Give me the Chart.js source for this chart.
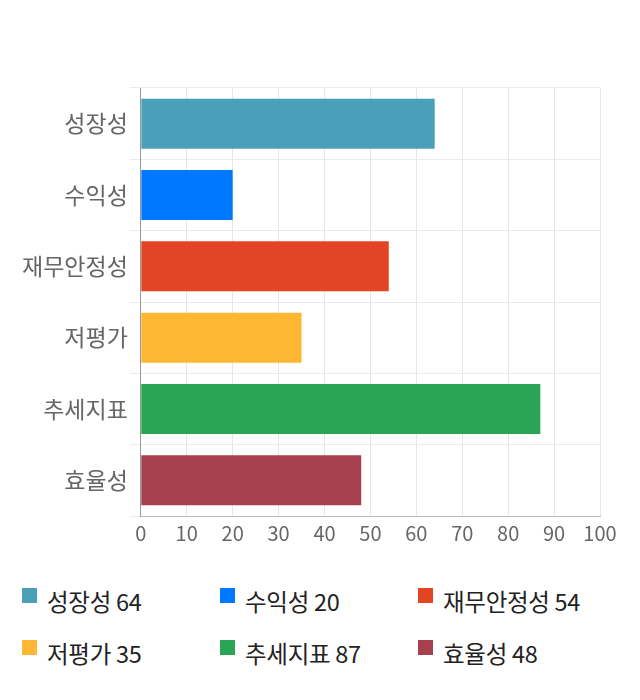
<!DOCTYPE html>
<html><head><meta charset="utf-8">
<script src="https://cdn.jsdelivr.net/npm/chart.js@4"></script>
<style>
html,body{margin:0;padding:0;background:#fff;}
body{width:640px;height:700px;font-family:"Noto Sans CJK KR","Noto Sans",sans-serif;}
#wrap{position:absolute;left:0;top:0;width:640px;height:560px;}
#legend{position:absolute;left:0;top:584px;width:640px;}
.item{position:absolute;display:flex;align-items:center;font-size:23.5px;color:#222;white-space:nowrap;letter-spacing:-0.3px;}
.box{width:15px;height:15px;margin-right:10px;position:relative;top:-6px;}
</style></head>
<body>
<div id="wrap"><canvas id="c"></canvas></div>
<div id="legend"></div>
<script>
const categories = ["성장성","수익성","재무안정성","저평가","추세지표","효율성"];
const values = [64,20,54,35,87,48];
const colors = ["#4aa0b8","#0077ff","#e24424","#fdb733","#29a554","#a6404f"];
const xTicks = [0,10,20,30,40,50,60,70,80,90,100];

const lg = document.getElementById('legend');
categories.forEach((c,i)=>{
  const d=document.createElement('div');
  d.className='item';
  d.style.left=(22+198*(i%3))+'px';
  d.style.top=(Math.floor(i/3)*52)+'px';
  d.innerHTML='<span class="box" style="background:'+colors[i]+'"></span><span>'+c+' '+values[i]+'</span>';
  lg.appendChild(d);
});

new Chart(document.getElementById('c'),{
  type:'bar',
  data:{labels:categories,datasets:[{data:values,backgroundColor:colors,borderWidth:0,barPercentage:0.875,categoryPercentage:0.8}]},
  options:{
    indexAxis:'y',responsive:true,maintainAspectRatio:false,animation:false,
    layout:{padding:{top:88,right:40,left:20,bottom:10}},
    plugins:{legend:{display:false},tooltip:{enabled:false}},
    scales:{
      x:{min:0,max:100,afterBuildTicks:(ax)=>{ax.ticks=xTicks.map(v=>({value:v}));},
        grid:{color:'#e6e6e6',drawTicks:false},border:{color:'#bbbbbb'},
        ticks:{color:'#666',font:{size:20,family:'"Noto Sans CJK KR", sans-serif'},padding:5}},
      y:{grid:{color:'#ebebeb',offset:true,tickLength:11},border:{color:'#999'},
        ticks:{color:'#666',font:{size:23,family:'"Noto Sans CJK KR", sans-serif'},padding:2}}
    }
  }
});
</script>
</body></html>
